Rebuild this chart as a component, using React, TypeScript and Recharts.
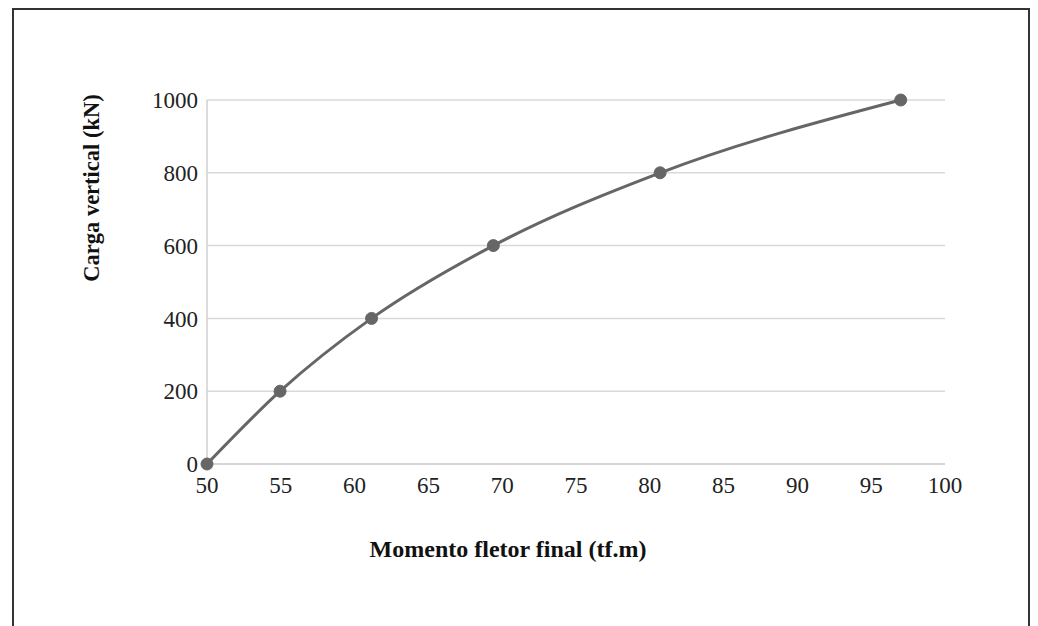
import { CartesianGrid, Line, LineChart, XAxis, YAxis } from 'recharts'

// Momento fletor final (tf.m) vs Carga vertical (kN)
const momento = [50, 54.95, 61.15, 69.4, 80.7, 97.0]
const carga = [0, 200, 400, 600, 800, 1000]
const xTicks = [50, 55, 60, 65, 70, 75, 80, 85, 90, 95, 100]
const yTicks = [0, 200, 400, 600, 800, 1000]

const data = momento.map((m, i) => ({ momento: m, carga: carga[i] }))

const serif = '"Liberation Serif", "Times New Roman", serif'
const tick = { fill: '#222', fontSize: 23, fontFamily: serif }

export default function App() {
  return (
    <div
      style={{
        position: 'absolute',
        left: 0,
        top: 0,
        width: 1038,
        height: 626,
        background: '#fff',
        overflow: 'hidden',
        fontFamily: serif,
      }}
    >
      <div
        style={{
          position: 'absolute',
          left: 12,
          top: 8,
          width: 1018,
          height: 640,
          border: '2px solid #333',
          boxSizing: 'border-box',
        }}
      />
      <div style={{ position: 'absolute', left: 0, top: 0 }}>
        <LineChart
          width={1038}
          height={626}
          data={data}
          margin={{ top: 100, right: 93, left: 147, bottom: 132 }}
        >
          <CartesianGrid vertical={false} stroke="#d9d9d9" strokeWidth={1.5} />
          <XAxis
            dataKey="momento"
            type="number"
            domain={[50, 100]}
            ticks={xTicks}
            height={30}
            tick={tick}
            tickLine={false}
            tickSize={0}
            tickMargin={13}
            axisLine={{ stroke: '#d0d0d0', strokeWidth: 1.5 }}
          />
          <YAxis
            dataKey="carga"
            type="number"
            domain={[0, 1000]}
            ticks={yTicks}
            width={60}
            tick={tick}
            tickLine={false}
            tickSize={0}
            tickMargin={9}
            axisLine={{ stroke: '#d0d0d0', strokeWidth: 1.5 }}
          />
          <Line
            type="monotone"
            dataKey="carga"
            stroke="#666"
            strokeWidth={3}
            dot={{ r: 6, fill: '#666', stroke: '#666', strokeWidth: 1 }}
            activeDot={false}
            isAnimationActive={false}
          />
        </LineChart>
      </div>
      <div
        style={{
          position: 'absolute',
          left: 508,
          top: 549,
          transform: 'translate(-50%, -50%)',
          fontSize: 24,
          fontWeight: 'bold',
          whiteSpace: 'nowrap',
          color: '#111',
        }}
      >
        Momento fletor final (tf.m)
      </div>
      <div
        style={{
          position: 'absolute',
          left: 92,
          top: 188,
          transform: 'translate(-50%, -50%) rotate(-90deg)',
          fontSize: 22.5,
          fontWeight: 'bold',
          whiteSpace: 'nowrap',
          color: '#111',
        }}
      >
        Carga vertical (kN)
      </div>
    </div>
  )
}
